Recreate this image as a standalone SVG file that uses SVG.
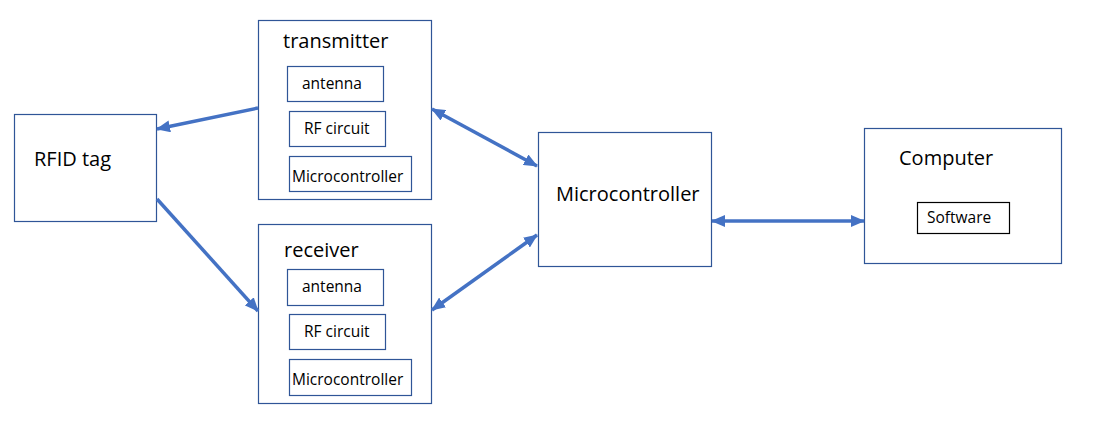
<svg xmlns="http://www.w3.org/2000/svg" width="1098" height="440" viewBox="0 0 1098 440">
<style>
.box{fill:#fff;stroke:#2F5597;stroke-width:1.2}
.sub{fill:#fff;stroke:#2F5597;stroke-width:1.2}
.sw{fill:#fff;stroke:#000;stroke-width:1.2}
.big{font-family:"Open Sans","Liberation Sans",sans-serif;font-size:20px;fill:#000}
.sm{font-family:"Open Sans","Liberation Sans",sans-serif;font-size:15.5px;fill:#000}
.conn{stroke:#4472C4;stroke-width:3.5;fill:none}
</style>
<defs>
<marker id="ah" viewBox="0 0 14 12" refX="13" refY="6" markerWidth="14" markerHeight="12" markerUnits="userSpaceOnUse" orient="auto-start-reverse">
<path d="M0,0 L14,6 L0,12 z" fill="#4472C4"/>
</marker>
</defs>
<rect width="1098" height="440" fill="#fff"/>
<g id="rfid">
<rect class="box" x="14.5" y="114.5" width="142" height="107"/>
<text class="big" x="34" y="166">RFID tag</text>
</g>
<g id="transmitter">
<rect class="box" x="258.5" y="20.5" width="173" height="179"/>
<text class="big" x="283" y="48">transmitter</text>
<rect class="sub" x="287.5" y="66.5" width="96" height="35"/>
<text class="sm" x="302" y="89">antenna</text>
<rect class="sub" x="289.5" y="111.5" width="96" height="35"/>
<text class="sm" x="304" y="134">RF circuit</text>
<rect class="sub" x="289.5" y="156.5" width="122" height="35"/>
<text class="sm" x="292" y="182">Microcontroller</text>
</g>
<g id="receiver">
<rect class="box" x="258.5" y="224.5" width="173" height="179"/>
<text class="big" x="284" y="257">receiver</text>
<rect class="sub" x="287.5" y="269.5" width="96" height="36"/>
<text class="sm" x="302" y="292">antenna</text>
<rect class="sub" x="289.5" y="314.5" width="96" height="35"/>
<text class="sm" x="304" y="337">RF circuit</text>
<rect class="sub" x="289.5" y="359.5" width="122" height="36"/>
<text class="sm" x="292" y="385">Microcontroller</text>
</g>
<g id="microcontroller">
<rect class="box" x="538.5" y="132.5" width="173" height="134"/>
<text class="big" x="556" y="201">Microcontroller</text>
</g>
<g id="computer">
<rect class="box" x="864.5" y="128.5" width="197" height="135"/>
<text class="big" x="899" y="165">Computer</text>
<rect class="sw" x="917.5" y="202.5" width="92" height="31"/>
<text class="sm" x="927" y="223">Software</text>
</g>
<g id="connectors">
<line class="conn" x1="258" y1="108" x2="157" y2="129" marker-end="url(#ah)"/>
<line class="conn" x1="157" y1="199" x2="258" y2="311" marker-end="url(#ah)"/>
<line class="conn" x1="432" y1="109" x2="537" y2="166" marker-start="url(#ah)" marker-end="url(#ah)"/>
<line class="conn" x1="537" y1="235" x2="432" y2="310" marker-start="url(#ah)" marker-end="url(#ah)"/>
<line class="conn" x1="712" y1="221" x2="864" y2="221" marker-start="url(#ah)" marker-end="url(#ah)"/>
</g>
</svg>
